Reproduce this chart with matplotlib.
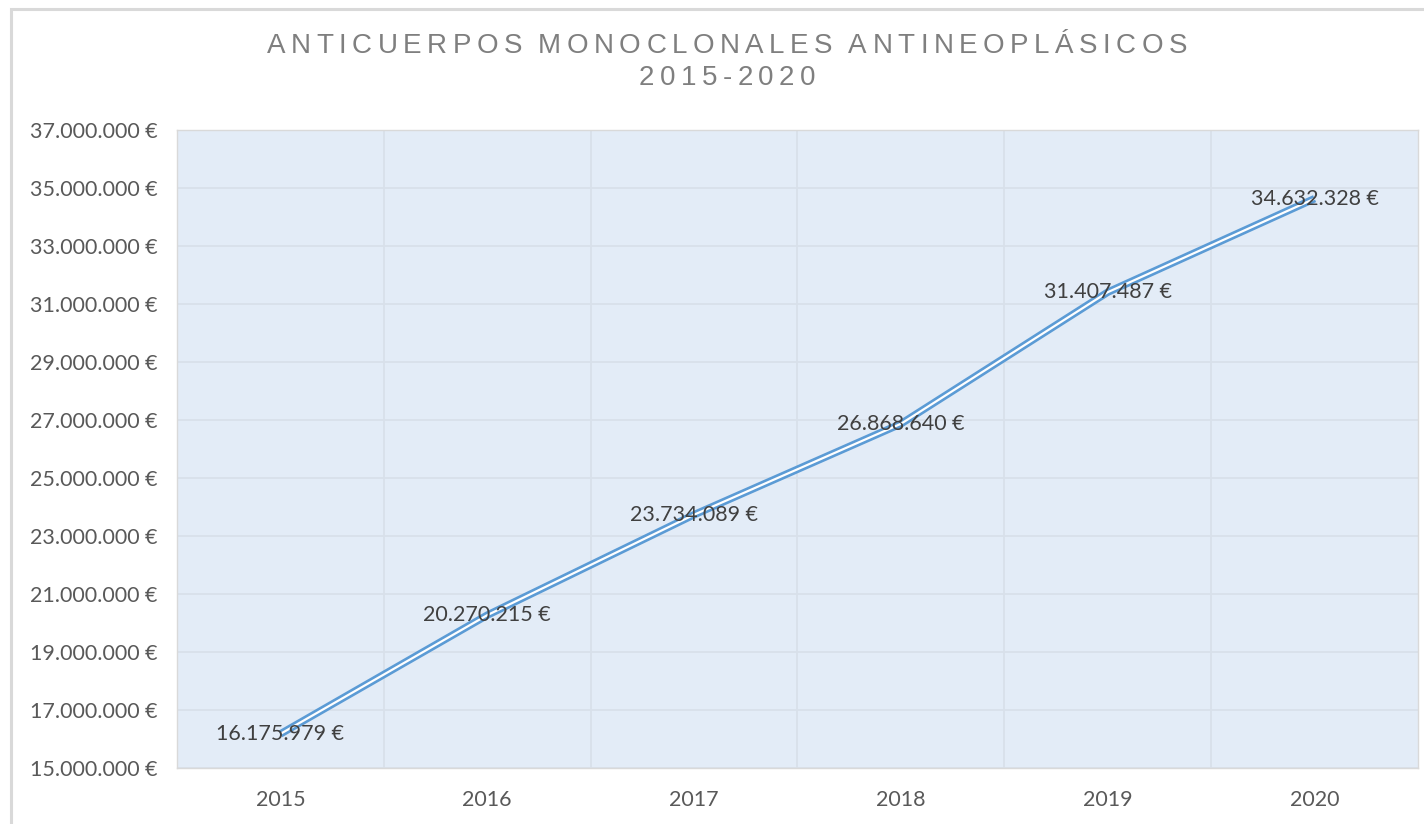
import numpy as np
import matplotlib
matplotlib.use('Agg')
import matplotlib.pyplot as plt
from matplotlib.patches import Rectangle
from matplotlib.ticker import FuncFormatter
from matplotlib.font_manager import FontProperties

# data
years = ['2015', '2016', '2017', '2018', '2019', '2020']
gasto = [16175979, 20270215, 23734089, 26868640, 31407487, 34632328]
yticks = [15000000, 17000000, 19000000, 21000000, 23000000, 25000000,
          27000000, 29000000, 31000000, 33000000, 35000000, 37000000]
title_lines = ['ANTICUERPOS MONOCLONALES ANTINEOPLÁSICOS', '2015-2020']


def euro(v, pos=None):
    # 16175979 -> '16.175.979 €'
    return '{:,.0f} €'.format(v).replace(',', '.')


W, H, DPI = 1424, 824, 100
fig = plt.figure(figsize=(W / DPI, H / DPI), dpi=DPI)
fig.patch.set_facecolor('white')

# grey frame of the chart object (only left and top are in view)
fig.add_artist(Rectangle((11 / W, -0.1), 1.2, 1.1 - 9 / H, transform=fig.transFigure,
                         fill=False, ec='#d9d9d9', lw=2.2))

ax = fig.add_axes([177 / W, (H - 768) / H, 1241 / W, 638 / H])
ax.set_facecolor('#E3ECF7')

x = np.arange(len(years))
ax.plot(x, gasto, color='#5B9BD5', lw=5.4, solid_capstyle='butt', zorder=3)
ax.plot(x, gasto, color='white', lw=1.6, solid_capstyle='butt', zorder=4)

for xi, v in zip(x, gasto):
    ax.text(xi, v, euro(v), ha='center', va='center', fontsize=15.5,
            family='Lato', color='#404040', zorder=5)

ax.set_xlim(-0.5, len(years) - 0.5)
ax.set_ylim(yticks[0], yticks[-1])
ax.set_yticks(yticks)
ax.yaxis.set_major_formatter(FuncFormatter(euro))
ax.set_xticks(x)
ax.set_xticklabels(years)
ax.set_xticks(x[:-1] + 0.5, minor=True)

ax.grid(axis='y', which='major', color='#D8E0EA', lw=1.3, zorder=1)
ax.grid(axis='x', which='minor', color='#D8E0EA', lw=1.3, zorder=1)
ax.set_axisbelow(True)
ax.tick_params(axis='both', which='both', length=0)
ax.tick_params(axis='y', pad=14, labelsize=15.5, labelcolor='#595959')
ax.tick_params(axis='x', pad=16, labelsize=15.5, labelcolor='#595959')
for lab in ax.get_xticklabels() + ax.get_yticklabels():
    lab.set_family('Lato')
for s in ax.spines.values():
    s.set_color('#D9D9D9')
    s.set_linewidth(1.0)

# title with expanded letter spacing, laid out character by character
renderer = fig.canvas.get_renderer()
tprop = FontProperties(family='Liberation Sans', size=20)
spacing = 5.5  # extra pixels between letters
cx = 727
for line, ycen in zip(title_lines, [46, 78]):
    widths = [renderer.get_text_width_height_descent(c, tprop, ismath=False)[0] for c in line]
    sp_w = (renderer.get_text_width_height_descent('A A', tprop, ismath=False)[0]
            - renderer.get_text_width_height_descent('AA', tprop, ismath=False)[0])
    widths = [sp_w if c == ' ' else w for c, w in zip(line, widths)]
    total = sum(widths) + spacing * (len(line) - 1)
    xpos = cx - total / 2
    for c, w in zip(line, widths):
        if c != ' ':
            fig.text(xpos / W, 1 - ycen / H, c, fontproperties=tprop, color='#7F7F7F',
                     ha='left', va='center')
        xpos += w + spacing

fig.savefig('out.png', dpi=DPI)
